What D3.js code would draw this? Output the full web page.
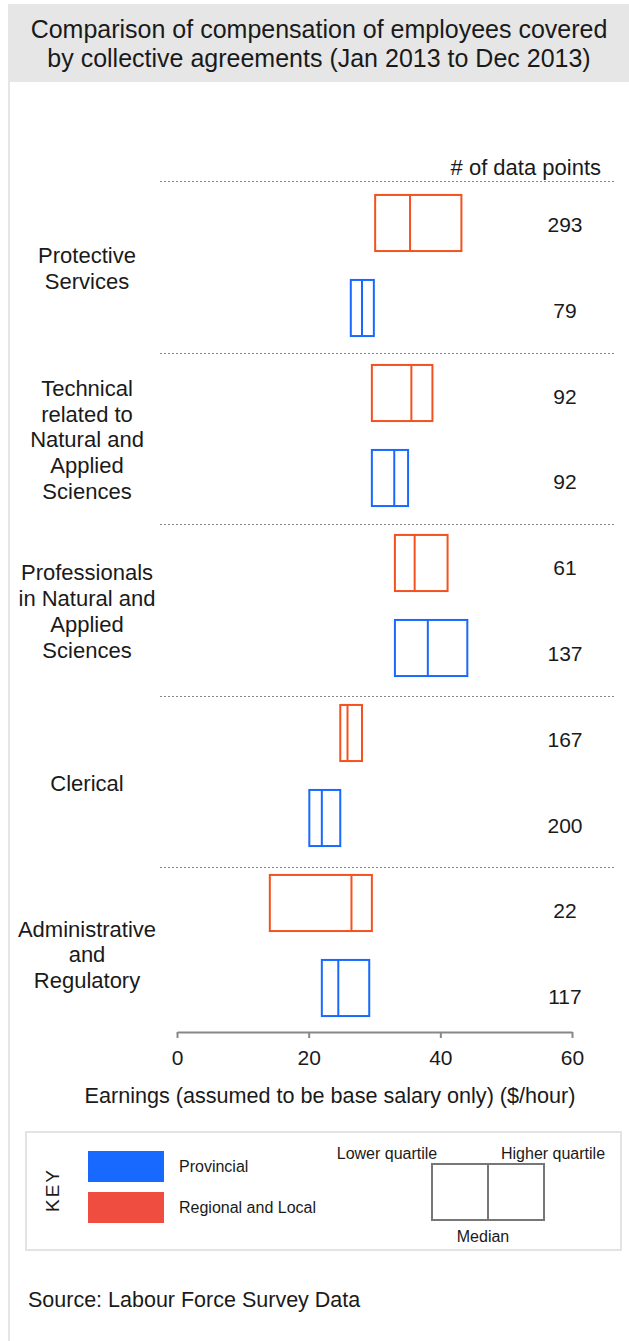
<!DOCTYPE html>
<html>
<head>
<meta charset="utf-8">
<script src="https://cdn.jsdelivr.net/npm/d3@7"></script>
<style>
  body { margin: 0; background: #fff; }
  svg text { font-family: "Liberation Sans", Arial, sans-serif; fill: #1a1a1a; }
</style>
</head>
<body>
<div id="chart"></div>
<script>
var categories = ["Protective Services", "Technical related to Natural and Applied Sciences",
    "Professionals in Natural and Applied Sciences", "Clerical", "Administrative and Regulatory"];
var labelLines = [
    ["Protective", "Services"],
    ["Technical", "related to", "Natural and", "Applied", "Sciences"],
    ["Professionals", "in Natural and", "Applied", "Sciences"],
    ["Clerical"],
    ["Administrative", "and", "Regulatory"]
];
// [lower quartile, median, higher quartile] in $/hour
var regional = [[30.1, 35.4, 43.2], [29.6, 35.6, 38.8], [33.1, 36.1, 41.1], [24.8, 25.9, 28.1], [14.1, 26.5, 29.6]];
var provincial = [[26.4, 28.1, 29.9], [29.6, 33.0, 35.1], [33.1, 38.1, 44.1], [20.1, 22.0, 24.8], [22.0, 24.5, 29.2]];
var regionalCount = [293, 92, 61, 167, 22];
var provincialCount = [79, 92, 137, 200, 117];
var xTicks = [0, 20, 40, 60];
var seriesNames = ["Provincial", "Regional and Local"];

var W = 629, H = 1341;
var orange = "#f4511e", blue = "#1769ff";

var svg = d3.select("#chart").append("svg")
    .attr("width", W)
    .attr("height", H);

// frame + header
svg.append("line")
    .attr("x1", 9).attr("x2", 9)
    .attr("y1", 82).attr("y2", H)
    .attr("stroke", "#e6e6e6").attr("stroke-width", 2);
svg.append("rect")
    .attr("x", 8).attr("y", 4)
    .attr("width", W - 8).attr("height", 78)
    .attr("fill", "#e6e6e6");
svg.append("text")
    .attr("x", 319).attr("y", 38)
    .attr("text-anchor", "middle")
    .style("font-size", "25px")
    .text("Comparison of compensation of employees covered");
svg.append("text")
    .attr("x", 319).attr("y", 67)
    .attr("text-anchor", "middle")
    .style("font-size", "25px")
    .text("by collective agreements (Jan 2013 to Dec 2013)");

// rows: each category has two rows (regional on top, provincial below)
var rows = [];
categories.forEach(function(c, i) {
    rows.push({cat: c, i: i, kind: "regional", q: regional[i], n: regionalCount[i]});
    rows.push({cat: c, i: i, kind: "provincial", q: provincial[i], n: provincialCount[i]});
});
var rowIds = rows.map(function(d, k) { return k; });

var x = d3.scaleLinear().domain([0, 60]).range([177, 572]);
var yRow = d3.scaleBand().domain(rowIds).range([180.5, 1030.5]).paddingInner(0.34).paddingOuter(0.17);
var yGroup = d3.scaleBand().domain(d3.range(categories.length)).range([181, 1039]);
var yCount = d3.scaleBand().domain(rowIds).range([181, 1039]);

// separators
svg.append("g").selectAll("line")
    .data(d3.range(categories.length))
    .enter().append("line")
    .attr("x1", 160).attr("x2", 616)
    .attr("y1", function(d) { return Math.round(yGroup(d)) + 0.5; })
    .attr("y2", function(d) { return Math.round(yGroup(d)) + 0.5; })
    .attr("stroke", "#888")
    .attr("stroke-dasharray", "2,2");

svg.append("text")
    .attr("x", 601).attr("y", 175)
    .attr("text-anchor", "end")
    .style("font-size", "22px")
    .text("# of data points");

// category labels
var lh = 25.7;
svg.append("g").selectAll("text")
    .data(labelLines)
    .enter().append("text")
    .attr("text-anchor", "middle")
    .style("font-size", "22px")
    .each(function(lines, i) {
        var cy = yGroup(i) + yGroup.bandwidth() / 2;
        var y0 = cy - (lines.length - 1) * lh / 2 + 9;
        d3.select(this).selectAll("tspan")
            .data(lines)
            .enter().append("tspan")
            .attr("x", 87)
            .attr("y", function(d, k) { return y0 + k * lh; })
            .text(function(d) { return d; });
    });

// boxes
var boxes = svg.append("g").selectAll("g")
    .data(rows)
    .enter().append("g")
    .attr("stroke", function(d) { return d.kind == "regional" ? orange : blue; })
    .attr("stroke-width", 2)
    .attr("fill", "none");

boxes.append("rect")
    .attr("x", function(d) { return x(d.q[0]); })
    .attr("y", function(d, k) { return yRow(k); })
    .attr("width", function(d) { return x(d.q[2]) - x(d.q[0]); })
    .attr("height", yRow.bandwidth());

boxes.append("line")
    .attr("x1", function(d) { return x(d.q[1]); })
    .attr("x2", function(d) { return x(d.q[1]); })
    .attr("y1", function(d, k) { return yRow(k); })
    .attr("y2", function(d, k) { return yRow(k) + yRow.bandwidth(); });

// counts
svg.append("g").selectAll("text")
    .data(rows)
    .enter().append("text")
    .attr("x", 565)
    .attr("y", function(d, k) { return yCount(k) + yCount.bandwidth() / 2 + 8; })
    .attr("text-anchor", "middle")
    .style("font-size", "21px")
    .text(function(d) { return d.n; });

// x axis
var axis = svg.append("g")
    .attr("transform", "translate(0,1032)")
    .call(d3.axisBottom(x).tickValues(xTicks).tickSize(6).tickSizeOuter(0).tickPadding(12));
axis.select(".domain").attr("stroke", "#888").attr("stroke-width", 2);
axis.selectAll(".tick line").attr("stroke", "#888").attr("stroke-width", 2);
axis.selectAll(".tick text")
    .style("font-size", "21px")
    .style("font-family", "'Liberation Sans', Arial, sans-serif")
    .attr("fill", "#1a1a1a");

svg.append("text")
    .attr("x", 330).attr("y", 1103)
    .attr("text-anchor", "middle")
    .style("font-size", "21.6px")
    .text("Earnings (assumed to be base salary only) ($/hour)");

// key
var key = svg.append("g");
key.append("rect")
    .attr("x", 26).attr("y", 1132)
    .attr("width", 595).attr("height", 118)
    .attr("fill", "none").attr("stroke", "#e3e3e3").attr("stroke-width", 2);
key.append("text")
    .attr("transform", "translate(59,1190) rotate(-90)")
    .attr("text-anchor", "middle")
    .style("font-size", "19px")
    .style("letter-spacing", "2px")
    .text("KEY");

var keyColors = [blue, "#ef4d3f"];
key.selectAll(".sw")
    .data(seriesNames)
    .enter().append("rect")
    .attr("class", "sw")
    .attr("x", 88)
    .attr("y", function(d, k) { return 1151 + k * 41; })
    .attr("width", 76).attr("height", 31)
    .attr("fill", function(d, k) { return keyColors[k]; });
key.selectAll(".swt")
    .data(seriesNames)
    .enter().append("text")
    .attr("class", "swt")
    .attr("x", 179)
    .attr("y", function(d, k) { return 1172 + k * 41; })
    .style("font-size", "16px")
    .text(function(d) { return d; });

key.append("rect")
    .attr("x", 432).attr("y", 1164)
    .attr("width", 112).attr("height", 56)
    .attr("fill", "none").attr("stroke", "#777").attr("stroke-width", 2);
key.append("line")
    .attr("x1", 488).attr("x2", 488)
    .attr("y1", 1164).attr("y2", 1220)
    .attr("stroke", "#777").attr("stroke-width", 2);
key.append("text").attr("x", 387).attr("y", 1159).attr("text-anchor", "middle")
    .style("font-size", "16px").text("Lower quartile");
key.append("text").attr("x", 553).attr("y", 1159).attr("text-anchor", "middle")
    .style("font-size", "16px").text("Higher quartile");
key.append("text").attr("x", 483).attr("y", 1242).attr("text-anchor", "middle")
    .style("font-size", "16px").text("Median");

svg.append("text")
    .attr("x", 28).attr("y", 1307)
    .style("font-size", "21.5px")
    .text("Source: Labour Force Survey Data");
</script>
</body>
</html>
